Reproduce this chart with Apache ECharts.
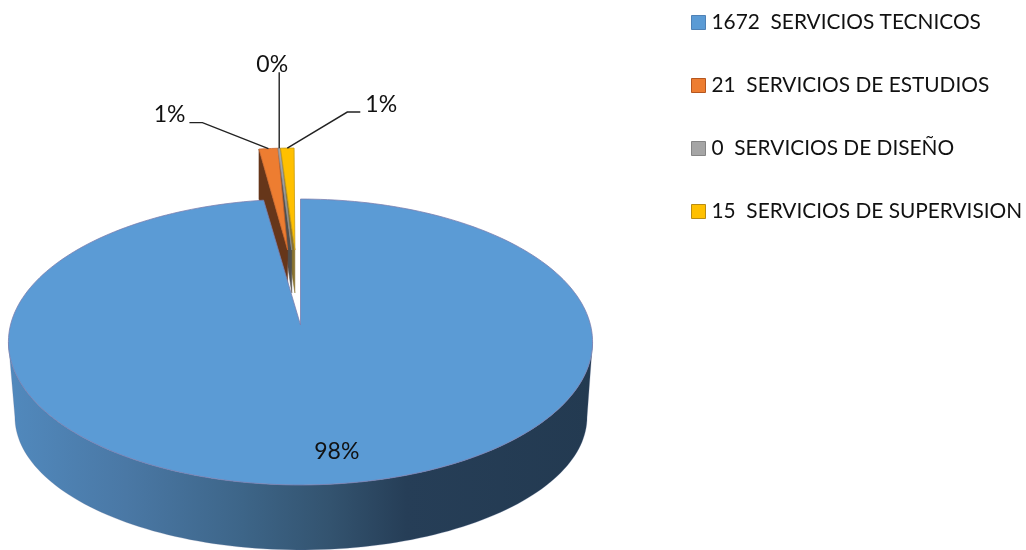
<!DOCTYPE html>
<html><head><meta charset="utf-8">
<style>html,body{margin:0;padding:0;background:#fff}#c{width:1026px;height:550px}</style>
<script src="https://cdn.jsdelivr.net/npm/echarts@6/dist/echarts.min.js"></script>
</head><body><div id="c"></div>
<script>
// ---- data ----
const categories = ['SERVICIOS TECNICOS', 'SERVICIOS DE ESTUDIOS', 'SERVICIOS DE DISEÑO', 'SERVICIOS DE SUPERVISION'];
const values = [1672, 21, 0, 15];
const colors = ['#5B9BD5', '#ED7D31', '#A5A5A5', '#FFC000'];
const edgeColors = ['#7a7fb0', '#c9642a', '#8c8c8c', '#c79a10'];
const wallColors = ['#3d6588', '#66361a', '#4f4f4f', '#8a7430'];
const legendBorders = ['#4f81b5', '#b5561f', '#858585', '#b98c12'];

// ---- layout ----
const FONT = 'Lato, "Open Sans", sans-serif';
const LABEL_SIZE = 23;
const MIN_ANGLE = 0.6;                    // a zero slice still shows as a sliver
const PX = 300.5, S = 290, YA = 325, YB = 102.3, P = -0.1189; // perspective of the disc
const BASE = {cx: 300.5, cy: 342, ox: 301, oy: 417, sx: 286 / 292, sy: 133 / 143};
const EXPLODE = {arcDu: -0.026, arcDv: -0.476, apexDu: -0.011, apexK: 0.35, apexV: -0.568, depth: 43, backDepth: 50};
const LABEL_OFFSETS = [[18, 2], [-66, -26], [0, -76], [60, -36]];
const LABEL_SHIFT = [[0, 0], [-4, -8], [-7, -8], [5, -7]];

const sum = values.reduce((a, b) => a + b, 0);
const raw = values.map(v => Math.max(v / sum * 360, v === 0 ? MIN_ANGLE : 0));
const rawSum = raw.reduce((a, b) => a + b, 0);
const sweeps = raw.map(a => a * 360 / rawSum);
const starts = sweeps.reduce((acc, a, i) => (acc.push(i ? acc[i - 1] + sweeps[i - 1] : 0), acc), []);
const pct = values.map(v => Math.round(v / sum * 100) + '%');

const rad = d => d * Math.PI / 180;
function proj(u, v) {
  const w = 1 + P * v;
  return [PX + S * u / w, (YA + YB * v) / w];
}
const toBase = p => [BASE.ox + (p[0] - BASE.cx) * BASE.sx, BASE.oy + (p[1] - BASE.cy) * BASE.sy];
const rim = d => proj(Math.sin(rad(d)), -Math.cos(rad(d)));
function arcPts(a0, a1, f) {
  const n = Math.max(2, Math.ceil(Math.abs(a1 - a0) / 1.5));
  const out = [];
  for (let k = 0; k <= n; k++) out.push(f(a0 + (a1 - a0) * k / n));
  return out;
}
const poly = (points, style, z2) => ({type: 'polygon', z2, shape: {points}, style, silent: true});

function renderMain(params, api) {
  const i = params.seriesIndex;
  const a0 = starts[i], a1 = a0 + sweeps[i];
  const face = [proj(0, 0)].concat(arcPts(a0, a1, rim));
  const lim = Math.acos(P) * 180 / Math.PI;     // angle of the widest point
  const front = arcPts(lim, 360 - lim, rim);
  const wall = front.concat(front.slice().reverse().map(toBase));
  const grad = new echarts.graphic.LinearGradient(9, 0, 593, 0, [
    {offset: 0, color: '#5189bd'}, {offset: 0.2, color: '#4a78a5'}, {offset: 0.4, color: '#3d6588'},
    {offset: 0.55, color: '#33536f'}, {offset: 0.68, color: '#263e57'}, {offset: 1, color: '#233a51'}
  ], true);
  const mid = rad(a0 + sweeps[i] / 2);
  const lp = proj(Math.sin(mid) * 0.8, -Math.cos(mid) * 0.8);
  return {type: 'group', children: [
    poly(wall, {fill: grad, stroke: 'rgba(90,110,150,0.5)', lineWidth: 0.5}, 10),
    poly(face, {fill: colors[i], stroke: edgeColors[i], lineWidth: 0.8, lineJoin: 'round'}, 11),
    {type: 'text', z2: 20, silent: true, style: {text: pct[i], x: lp[0] + LABEL_OFFSETS[i][0], y: lp[1] + LABEL_OFFSETS[i][1],
      font: LABEL_SIZE + 'px ' + FONT, fill: '#111', textAlign: 'center', textVerticalAlign: 'middle'}}
  ]};
}

function renderSmall(params, api) {
  const i = params.seriesIndex;
  const a0 = starts[i], a1 = a0 + sweeps[i], m = a0 + sweeps[i] / 2;
  const fn = d => proj(Math.sin(rad(d)) + EXPLODE.arcDu, -Math.cos(rad(d)) + EXPLODE.arcDv);
  const arc = arcPts(a0, a1, fn);
  const apex = proj(EXPLODE.apexDu + EXPLODE.apexK * Math.sin(rad(m)), EXPLODE.apexV);
  const left = arc[0];
  const wall = [left, [left[0], left[1] + EXPLODE.backDepth], [apex[0], apex[1] + EXPLODE.depth], apex];
  const anchor = fn(m);
  const off = LABEL_OFFSETS[i], sh = LABEL_SHIFT[i];
  const elbow = [anchor[0] + off[0], anchor[1] + off[1]];
  const tailDir = off[0] === 0 ? 0 : Math.sign(off[0]) * 13;
  const leader = tailDir === 0 ? [anchor, elbow] : [anchor, elbow, [elbow[0] + tailDir, elbow[1]]];
  const tx = elbow[0] + tailDir + sh[0];
  return {type: 'group', children: [
    poly(wall, {fill: wallColors[i], stroke: wallColors[i], lineWidth: 0.5}, 5 - i),
    poly([apex].concat(arc), {fill: colors[i], stroke: edgeColors[i], lineWidth: 0.8, lineJoin: 'round'}, 6),
    {type: 'polyline', z2: 19, silent: true, shape: {points: leader}, style: {stroke: '#222', lineWidth: 1.4, fill: null}},
    {type: 'text', z2: 20, silent: true, style: {text: pct[i], x: tx, y: elbow[1] + sh[1],
      font: LABEL_SIZE + 'px ' + FONT, fill: '#111',
      textAlign: off[0] < 0 ? 'right' : off[0] > 0 ? 'left' : 'center', textVerticalAlign: 'middle'}}
  ]};
}

const names = categories.map((c, i) => values[i] + '  ' + c);
const chart = echarts.init(document.getElementById('c'), null, {renderer: 'canvas'});
chart.setOption({
  animation: false,
  backgroundColor: '#fff',
  legend: {
    orient: 'vertical', left: 691, top: 10, itemWidth: 14, itemHeight: 14, itemGap: 38,
    selectedMode: false, icon: 'rect', padding: 0,
    textStyle: {fontFamily: FONT, fontSize: 20.85, color: '#111', padding: [0, 0, 0, 1], lineHeight: 25},
    data: names.map((n, i) => ({name: n, itemStyle: {color: colors[i], borderColor: legendBorders[i], borderWidth: 1}}))
  },
  series: names.map((n, i) => ({
    type: 'custom', name: n, coordinateSystem: 'none', silent: true,
    itemStyle: {color: colors[i]},
    renderItem: i === 0 ? renderMain : renderSmall,
    data: [[values[i]]]
  }))
});
</script></body></html>
